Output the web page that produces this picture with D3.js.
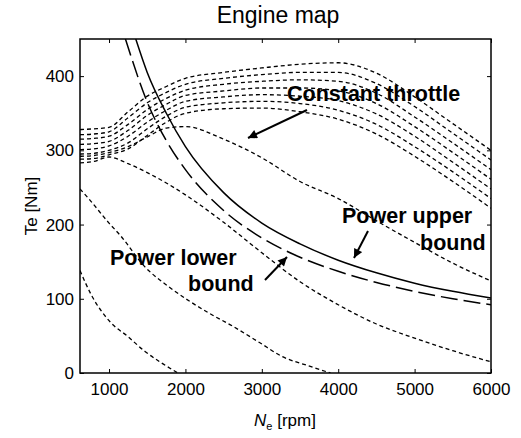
<!DOCTYPE html>
<html>
<head>
<meta charset="utf-8">
<script src="https://cdn.jsdelivr.net/npm/d3@7"></script>
<style>
  body { margin: 0; background: #fff; }
  svg { display: block; }
  text { font-family: "Liberation Sans", Arial, Helvetica, sans-serif; fill: #000; }
</style>
</head>
<body>
<svg id="chart" width="521" height="438"></svg>
<script>
// Engine speed grid shared by the constant-throttle curves [rpm]
const rpmGrid = [620, 800, 1000, 1250, 1500, 1750, 2000, 2500, 3000, 3500, 4000, 4500, 5000, 5500, 6000];

// Constant-throttle torque curves on rpmGrid [Nm], highest throttle first
const throttle1 = [328, 329, 331, 352, 373, 386, 397, 405, 411, 416, 418, 404, 372, 336, 300];
const throttle2 = [321, 322, 325, 344, 364, 378, 389, 397, 402, 405, 405, 390, 359, 323, 287];
const throttle3 = [315, 316, 319, 335, 355, 370, 381, 389, 393, 395, 393, 377, 345, 310, 274];
const throttle4 = [308, 309, 312, 327, 347, 362, 374, 380, 384, 384, 380, 363, 332, 297, 261];
const throttle5 = [301, 302, 306, 319, 338, 354, 366, 372, 375, 373, 367, 349, 319, 284, 248];
const throttle6 = [295, 296, 300, 310, 329, 346, 358, 364, 366, 363, 354, 335, 305, 271, 235];
const throttle7 = [288, 289, 294, 302, 320, 338, 350, 356, 357, 352, 342, 322, 292, 258, 222];
const throttle8 = [292, 293, 297, 305, 318, 330, 332, 315, 290, 258, 235, 205, 176, 148, 124];
const throttle9 = [283, 285, 291, 282, 270, 256, 240, 203, 162, 123, 92, 66, 47, 30, 15];

// Low-throttle curves run down to zero torque
const lowThrottleRpmA = [620, 725, 1000, 1150, 1470, 1785, 2050, 2320, 2620, 2970, 3270, 3600, 3900];
const lowThrottleTeA  = [248, 236, 202, 185, 143, 116, 97, 80, 63, 41, 22, 10, 0];
const lowThrottleRpmB = [620, 764, 1013, 1248, 1471, 1680, 1903];
const lowThrottleTeB  = [138, 106, 69, 49, 29, 14, 0];

// Power bounds
const upperRpm = [1350, 1500, 1750, 2000, 2500, 3000, 3500, 4000, 4500, 5000, 5500, 6000];
const upperTe  = [450, 405, 350, 305, 243, 202, 174, 152, 135, 121, 110, 101];
const lowerRpm = [1215, 1500, 1750, 2000, 2500, 3000, 3500, 4000, 4500, 5000, 5500, 6000];
const lowerTe  = [450, 365, 313, 274, 219, 182, 156, 137, 122, 110, 100, 92];

// Axis ticks
const rpmTicks = [1000, 2000, 3000, 4000, 5000, 6000];
const teTicks = [0, 100, 200, 300, 400];

const svg = d3.select("#chart");
const plot = { left: 80, right: 491, top: 39, bottom: 373 };

const x = d3.scaleLinear().domain([620, 6000]).range([plot.left, plot.right]);
const y = d3.scaleLinear().domain([0, 450]).range([plot.bottom, plot.top]);

svg.append("defs").append("clipPath").attr("id", "plot-clip")
  .append("rect")
  .attr("x", plot.left).attr("y", plot.top)
  .attr("width", plot.right - plot.left).attr("height", plot.bottom - plot.top);

const line = d3.line().x(d => x(d[0])).y(d => y(d[1])).curve(d3.curveMonotoneX);
const curves = svg.append("g").attr("clip-path", "url(#plot-clip)")
  .attr("fill", "none").attr("stroke", "#000");

const throttleSets = [throttle1, throttle2, throttle3, throttle4, throttle5, throttle6, throttle7, throttle8, throttle9]
  .map(te => rpmGrid.map((n, i) => [n, te[i]]));
throttleSets.push(d3.zip(lowThrottleRpmA, lowThrottleTeA));
throttleSets.push(d3.zip(lowThrottleRpmB, lowThrottleTeB));

curves.selectAll("path.throttle").data(throttleSets).join("path")
  .attr("class", "throttle")
  .attr("d", line)
  .attr("stroke-width", 1.3)
  .attr("stroke-dasharray", "4,3");

curves.append("path")
  .attr("d", line(d3.zip(lowerRpm, lowerTe)))
  .attr("stroke-width", 1.5)
  .attr("stroke-dasharray", "17,6");

curves.append("path")
  .attr("d", line(d3.zip(upperRpm, upperTe)))
  .attr("stroke-width", 1.5);

// Frame with inward ticks on all four sides
const axisFont = 17;
svg.append("g").attr("transform", `translate(0,${plot.bottom})`)
  .call(d3.axisBottom(x).tickValues(rpmTicks).tickSizeInner(-4).tickSizeOuter(0).tickPadding(10).tickFormat(d3.format("d")))
  .call(g => g.selectAll("text").attr("font-size", axisFont));
svg.append("g").attr("transform", `translate(0,${plot.top})`)
  .call(d3.axisTop(x).tickValues(rpmTicks).tickSizeInner(-4).tickSizeOuter(0).tickFormat(""));
svg.append("g").attr("transform", `translate(${plot.left},0)`)
  .call(d3.axisLeft(y).tickValues(teTicks).tickSizeInner(-4).tickSizeOuter(0).tickPadding(6).tickFormat(d3.format("d")))
  .call(g => g.selectAll("text").attr("font-size", axisFont));
svg.append("g").attr("transform", `translate(${plot.right},0)`)
  .call(d3.axisRight(y).tickValues(teTicks).tickSizeInner(-4).tickSizeOuter(0).tickFormat(""));
svg.selectAll(".domain").remove();
svg.selectAll(".tick line").attr("stroke", "#000").attr("stroke-width", 1);
svg.selectAll(".tick text").attr("font-family", "Liberation Sans, Arial, sans-serif").attr("fill", "#000");

svg.append("rect")
  .attr("x", plot.left).attr("y", plot.top)
  .attr("width", plot.right - plot.left).attr("height", plot.bottom - plot.top)
  .attr("fill", "none").attr("stroke", "#000").attr("stroke-width", 1.5);

// Title and axis labels
svg.append("text").attr("x", 278).attr("y", 23).attr("text-anchor", "middle")
  .attr("font-size", 23).text("Engine map");

const xLabel = svg.append("text").attr("x", 285).attr("y", 426).attr("text-anchor", "middle")
  .attr("font-size", 17);
xLabel.append("tspan").attr("font-style", "italic").text("N");
xLabel.append("tspan").attr("font-size", 11).attr("dy", 4).text("e");
xLabel.append("tspan").attr("dy", -4).text(" [rpm]");

svg.append("text").attr("transform", "translate(37,206) rotate(-90)")
  .attr("text-anchor", "middle").attr("font-size", 17).text("Te [Nm]");

// Annotations with arrows
const defs = svg.select("defs");
defs.append("marker").attr("id", "arrowhead")
  .attr("viewBox", "0 0 10 10").attr("refX", 10).attr("refY", 5)
  .attr("markerWidth", 11).attr("markerHeight", 9).attr("markerUnits", "userSpaceOnUse")
  .attr("orient", "auto")
  .append("path").attr("d", "M0,0 L10,5 L0,10 Z").attr("fill", "#000");

const notes = [
  { text: "Constant throttle", x: 287, y: 101 },
  { text: "Power upper", x: 342, y: 223 },
  { text: "bound", x: 420, y: 250 },
  { text: "Power lower", x: 110, y: 265 },
  { text: "bound", x: 188, y: 291 }
];
svg.selectAll("text.note").data(notes).join("text")
  .attr("class", "note")
  .attr("x", d => d.x).attr("y", d => d.y)
  .attr("font-size", 21.5).attr("font-weight", "bold")
  .text(d => d.text);

const arrows = [
  { x1: 307, y1: 110, x2: 248, y2: 138 },
  { x1: 368, y1: 231, x2: 354, y2: 258 },
  { x1: 265, y1: 280, x2: 287, y2: 257 }
];
svg.selectAll("line.arrow").data(arrows).join("line")
  .attr("class", "arrow")
  .attr("x1", d => d.x1).attr("y1", d => d.y1).attr("x2", d => d.x2).attr("y2", d => d.y2)
  .attr("stroke", "#000").attr("stroke-width", 2)
  .attr("marker-end", "url(#arrowhead)");
</script>
</body>
</html>
